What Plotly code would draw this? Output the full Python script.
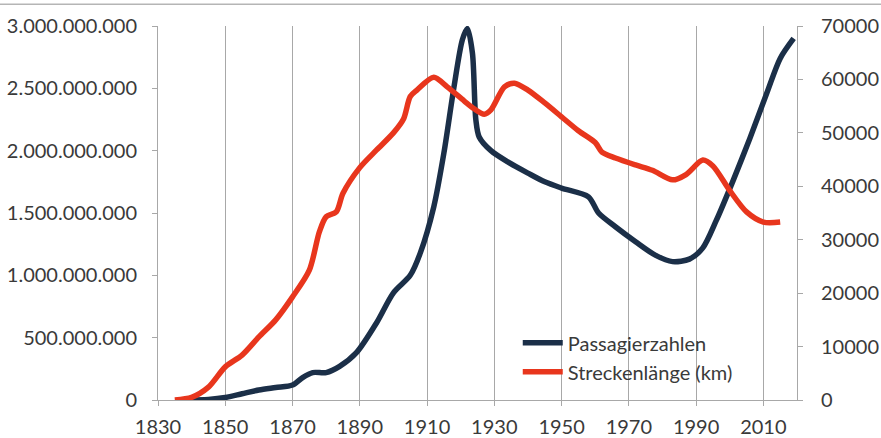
import plotly.graph_objects as go

# Passagierzahlen (left axis)
pass_years = [1838, 1845, 1850, 1855, 1860, 1865, 1870, 1873, 1876, 1880, 1884, 1889,
              1895, 1900, 1905, 1908, 1912, 1915, 1918, 1920.5, 1922, 1923.5, 1924.5,
              1925.5, 1929, 1934, 1940, 1945, 1950, 1958, 1961, 1966, 1972, 1978, 1983,
              1988, 1992, 1996, 2001, 2006, 2011, 2015, 2019]
pass_values = [0, 0.005e9, 0.02e9, 0.05e9, 0.08e9, 0.10e9, 0.12e9, 0.18e9, 0.22e9, 0.22e9,
               0.27e9, 0.38e9, 0.62e9, 0.86e9, 1.00e9, 1.18e9, 1.55e9, 1.98e9, 2.51e9,
               2.89e9, 2.98e9, 2.78e9, 2.25e9, 2.11e9, 2.00e9, 1.91e9, 1.82e9, 1.75e9,
               1.70e9, 1.63e9, 1.50e9, 1.39e9, 1.27e9, 1.16e9, 1.11e9, 1.13e9, 1.22e9,
               1.44e9, 1.76e9, 2.10e9, 2.46e9, 2.74e9, 2.90e9]

# Streckenlänge in km (right axis)
km_years = [1835, 1840, 1845, 1850, 1855, 1860, 1865, 1870, 1875, 1878, 1880, 1883, 1885,
            1890, 1895, 1900, 1903, 1905, 1907, 1912, 1916, 1921, 1924, 1927, 1929, 1933,
            1936, 1940, 1945, 1950, 1955, 1960, 1962, 1966, 1972, 1977, 1983, 1987, 1992,
            1995, 2000, 2005, 2010, 2015]
km_values = [0, 500, 2400, 6200, 8400, 11800, 15000, 19300, 24300, 31500, 34300, 35200,
             38700, 43500, 46800, 50000, 52600, 56800, 58000, 60400, 58600, 56000, 54500,
             53500, 54300, 58600, 59300, 58000, 55600, 53000, 50400, 48200, 46400, 45300,
             44000, 43000, 41200, 42200, 44900, 43800, 39200, 35200, 33300, 33300]

x_ticks = list(range(1830, 2011, 20))
left_ticks = [0, 5e8, 1e9, 1.5e9, 2e9, 2.5e9, 3e9]
right_ticks = list(range(0, 70001, 10000))

BLUE = "#1b2f48"
RED = "#e8361d"
GRID = "#a8a8a8"
TXT = "#3a3a3a"

fig = go.Figure()
fig.add_trace(go.Scatter(x=pass_years, y=pass_values, name="Passagierzahlen",
                         mode="lines", line=dict(color=BLUE, width=5.5, shape="spline", smoothing=0.8),
                         yaxis="y"))
fig.add_trace(go.Scatter(x=km_years, y=km_values, name="Streckenlänge (km)",
                         mode="lines", line=dict(color=RED, width=5.5, shape="spline", smoothing=0.8),
                         yaxis="y2"))

fig.update_layout(
    template="none",
    width=881, height=438,
    margin=dict(l=158, r=84, t=26, b=38, autoexpand=False),
    paper_bgcolor="white", plot_bgcolor="white",
    separators=",.",
    font=dict(family="Lato", size=20, color=TXT),
    showlegend=True,
    legend=dict(x=0.563, y=0.114, xanchor="left", yanchor="middle",
                bgcolor="rgba(0,0,0,0)", font=dict(size=20, color=TXT),
                itemwidth=40, tracegroupgap=0, borderwidth=0),
    xaxis=dict(range=[1830, 2020], tickvals=x_ticks, showgrid=True, gridcolor=GRID,
               gridwidth=1, showline=True, linecolor=GRID, linewidth=1,
               ticks="outside", ticklen=5, tickcolor=GRID, zeroline=False,
               ticklabelstandoff=4, automargin=False),
    yaxis=dict(range=[0, 3e9], tickvals=left_ticks, tickformat=",d", showgrid=False,
               showline=True, linecolor=GRID, linewidth=1, ticks="outside", ticklen=5,
               tickcolor=GRID, zeroline=False, ticklabelstandoff=11, automargin=False),
    yaxis2=dict(range=[0, 70000], tickvals=right_ticks, tickformat="d", overlaying="y",
                side="right", showgrid=False, showline=True, linecolor=GRID, linewidth=1,
                ticks="outside", ticklen=5, tickcolor=GRID, zeroline=False,
                ticklabelstandoff=14, automargin=False),
    shapes=[dict(type="line", xref="paper", yref="paper", x0=-0.26, x1=1.14,
                 y0=1.058, y1=1.058, line=dict(color="#b5b5b5", width=1.5))],
)

fig.write_html("out.html", config={"displayModeBar": False},
               post_script="document.body.style.margin='0px';")
